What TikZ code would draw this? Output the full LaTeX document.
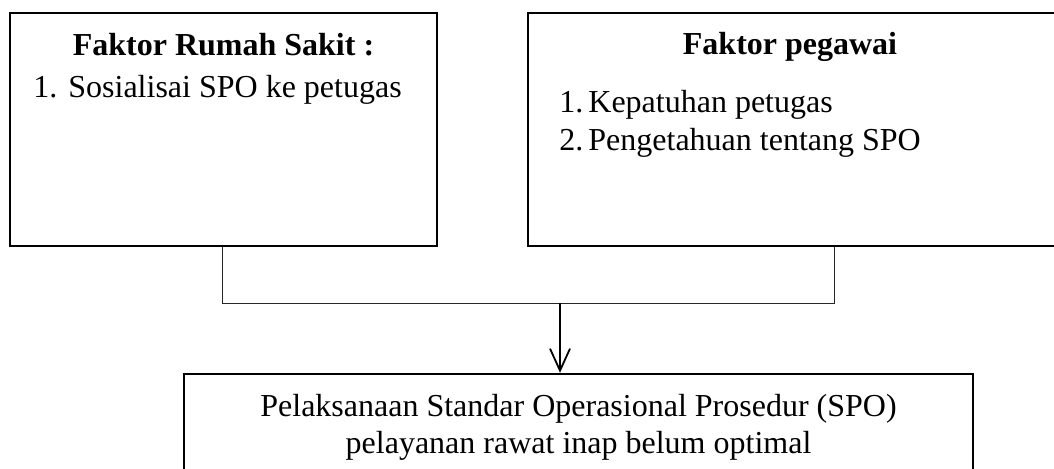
\documentclass[tikz,border=0pt]{standalone}
\usepackage{fontspec}
\setmainfont{Liberation Serif}
\usetikzlibrary{arrows.meta}
\begin{document}
\begin{tikzpicture}[x=0.5pt,y=-0.5pt,
  box/.style={draw, line width=1.2pt, inner sep=0pt},
  txt/.style={font=\fontsize{16}{19}\selectfont, inner sep=0pt},
  ttl/.style={txt, font=\fontsize{16}{19}\selectfont\bfseries},
  link/.style={line width=0.5pt, black!85},
  flow/.style={line width=0.9pt, -{Straight Barb[length=11pt,width=10pt,line width=0.9pt]}}]
\useasboundingbox (0,0) rectangle (1054,468);
% the three boxes
\node[box, minimum width=213.5pt, minimum height=116.5pt] (lbox) at (223.5,129.5) {};
\node[box, minimum width=276pt, minimum height=116.5pt] (rbox) at (804,129.5) {};
\node[box, minimum width=394.5pt, minimum height=63pt] (bbox) at (578.5,437) {};
% hospital factors
\node[ttl, anchor=base] (lt) at (223.5,55) {Faktor Rumah Sakit :};
\node[txt, anchor=base west] (l1n) at (33,97) {1.};
\node[txt, anchor=base west] (l1) at (68,97) {Sosialisai SPO ke petugas};
% staff factors
\node[ttl, anchor=base] (rt) at (790,54) {Faktor pegawai};
\node[txt, anchor=base west] (r1n) at (559,112) {1.};
\node[txt, anchor=base west] (r1) at (588,112) {Kepatuhan petugas};
\node[txt, anchor=base west] (r2n) at (559,150) {2.};
\node[txt, anchor=base west] (r2) at (588,150) {Pengetahuan tentang SPO};
% outcome
\node[txt, anchor=base] (b1) at (578.5,416) {Pelaksanaan Standar Operasional Prosedur (SPO)};
\node[txt, anchor=base] (b2) at (578.5,453) {pelayanan rawat inap belum optimal};
% connectors
\coordinate (jl) at (222,303);
\coordinate (jr) at (834,303);
\coordinate (ja) at (560,303);
\draw[link] (lbox.south -| jl) -- (jl) -- (jr) -- (rbox.south -| jr);
\draw[flow] (ja) -- (bbox.north -| ja);
\end{tikzpicture}
\end{document}
